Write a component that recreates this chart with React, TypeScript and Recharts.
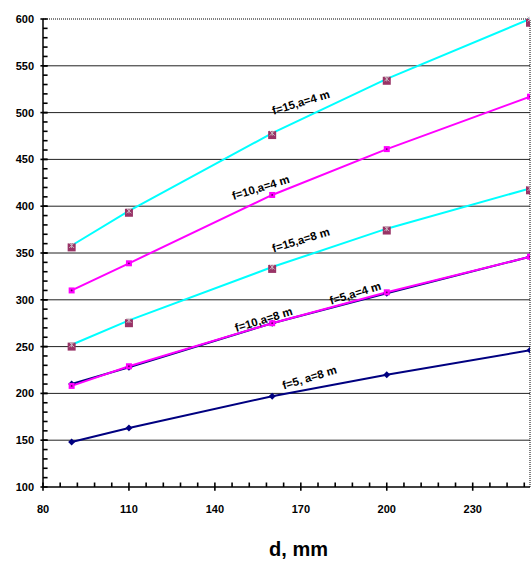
import React from "react";
import { LineChart, Line, XAxis, YAxis, ReferenceLine, ReferenceDot } from "recharts";

// d, mm at the marked points
const dValues = [90, 110, 160, 200, 250];

// calculated curves
const f15a4 = [358, 395, 478, 536, 600];
const f10a4 = [310, 339, 412, 461, 517];
const f15a8 = [252, 278, 335, 376, 419];
const f10a8 = [208, 229, 275, 308, 346];
const f5a4 = [210, 228, 275, 307, 346];
const f5a8 = [148, 163, 197, 220, 246];

// measured points (maroon squares)
const measuredA4 = [356, 393, 476, 534, 596];
const measuredA8 = [250, 275, 333, 374, 417];

const xTickLabels = [80, 110, 140, 170, 200, 230];
const yTickLabels = [100, 150, 200, 250, 300, 350, 400, 450, 500, 550, 600];
const gridLines = [150, 200, 250, 300, 350, 400, 450, 500, 550];

const curveLabels = [
  { text: "f=15,a=4 m", d: 170, v: 511 },
  { text: "f=10,a=4 m", d: 156, v: 420 },
  { text: "f=15,a=8 m", d: 170, v: 364 },
  { text: "f=10,a=8 m", d: 157, v: 279 },
  { text: "f=5,a=4 m", d: 189, v: 307 },
  { text: "f=5, a=8 m", d: 173, v: 217 },
];

const rows = (vals: number[]) => dValues.map((d, i) => ({ d, v: vals[i] }));

// minor ticks: every 6 mm on x, every 10 on y
const xMinor: number[] = [];
for (let t = 80; t < 250; t += 6) xMinor.push(t);
const yMinor: number[] = [];
for (let t = 110; t < 600; t += 10) yMinor.push(t);

// tick mark lengths in axis units (~4-5px)
const X_TICK = 1.6;
const Y_TICK = 4.8;

const FONT = "'Liberation Sans', Arial, sans-serif";

function renderYTick(props: any) {
  const { x, y, payload } = props;
  return (
    <text x={x - 9} y={y + 4} textAnchor="end" fontFamily={FONT} fontWeight="bold" fontSize={11} fill="#000">
      {payload.value}
    </text>
  );
}

function renderXTick(props: any) {
  const { x, y, payload } = props;
  return (
    <text x={x} y={y + 26} textAnchor="middle" fontFamily={FONT} fontWeight="bold" fontSize={11} fill="#000">
      {payload.value}
    </text>
  );
}

const StarDot = (p: any) => {
  const { cx, cy } = p;
  if (cx == null || cy == null) return <g />;
  const s = 2.5;
  return (
    <g stroke="#c8b8c0" strokeWidth={1}>
      <line x1={cx - s} y1={cy - s} x2={cx + s} y2={cy + s} />
      <line x1={cx - s} y1={cy + s} x2={cx + s} y2={cy - s} />
      <line x1={cx} y1={cy - s} x2={cx} y2={cy + s} />
    </g>
  );
};

const SquareDot = (p: any) => {
  const { cx, cy } = p;
  if (cx == null || cy == null) return <g />;
  return (
    <g>
      <rect x={cx - 3} y={cy - 3} width={6} height={6} fill="#ff00ff" />
      <circle cx={cx} cy={cy} r={0.9} fill="#660066" />
    </g>
  );
};

const DiamondDot = (p: any) => {
  const { cx, cy } = p;
  if (cx == null || cy == null) return <g />;
  const s = 3.5;
  return <polygon points={`${cx},${cy - s} ${cx + s},${cy} ${cx},${cy + s} ${cx - s},${cy}`} fill="#000080" />;
};

const MeasuredDot = (p: any) => {
  const { cx, cy } = p;
  if (cx == null || cy == null) return <g />;
  return <rect x={cx - 4} y={cy - 4} width={8} height={8} fill="#993366" />;
};

export default function App() {
  return (
    <div style={{ position: "absolute", left: 0, top: 0, background: "#fff" }}>
      <LineChart width={531} height={562} margin={{ top: 19, right: 1, bottom: 0, left: 0 }}>
        <XAxis
          dataKey="d"
          type="number"
          domain={[80, 250]}
          ticks={xTickLabels}
          interval={0}
          allowDataOverflow
          height={75}
          tickSize={0}
          tickMargin={0}
          tickLine={false}
          tick={renderXTick}
          axisLine={{ stroke: "#000", strokeWidth: 1.5 }}
          label={{
            content: (lp: any) => {
              const vb = lp.viewBox;
              return (
                <text
                  x={vb.x + vb.width / 2 + 12}
                  y={vb.y + 69}
                  textAnchor="middle"
                  fontFamily={FONT}
                  fontWeight="bold"
                  fontSize={20}
                  fill="#000"
                >
                  d, mm
                </text>
              );
            },
          }}
        />
        <YAxis
          type="number"
          domain={[100, 600]}
          ticks={yTickLabels}
          interval={0}
          width={43}
          tickSize={0}
          tickMargin={0}
          tickLine={false}
          tick={renderYTick}
          axisLine={{ stroke: "#000", strokeWidth: 1.5 }}
        />
        {gridLines.map((g) => (
          <ReferenceLine key={g} y={g} stroke="#222" strokeWidth={1} />
        ))}
        <ReferenceLine y={600} stroke="#000" strokeDasharray="1 1" />
        <ReferenceLine x={250} stroke="#000" strokeDasharray="1 1" />

        {/* inward tick marks along both axes */}
        {yMinor.map((t) => (
          <ReferenceLine
            key={`ym${t}`}
            segment={[{ x: 80, y: t }, { x: 80 + X_TICK, y: t }]}
            stroke="#000"
            strokeWidth={1.6}
            ifOverflow="visible"
          />
        ))}
        {yTickLabels.map((t) => (
          <ReferenceLine
            key={`yM${t}`}
            segment={[{ x: 80 - 0.9, y: t }, { x: 80 + X_TICK, y: t }]}
            stroke="#000"
            strokeWidth={1.6}
            ifOverflow="visible"
          />
        ))}
        {xMinor.map((t) => {
          const major = xTickLabels.includes(t);
          return (
            <ReferenceLine
              key={`xm${t}`}
              segment={[{ x: t, y: major ? 100 - 4 : 100 }, { x: t, y: 100 + Y_TICK }]}
              stroke="#000"
              strokeWidth={1.6}
              ifOverflow="visible"
            />
          );
        })}

        <Line data={rows(measuredA4)} dataKey="v" stroke="none" dot={<MeasuredDot />} isAnimationActive={false} />
        <Line data={rows(measuredA8)} dataKey="v" stroke="none" dot={<MeasuredDot />} isAnimationActive={false} />

        <Line data={rows(f15a4)} dataKey="v" type="linear" stroke="#00ffff" strokeWidth={2} dot={<StarDot />} isAnimationActive={false} />
        <Line data={rows(f15a8)} dataKey="v" type="linear" stroke="#00ffff" strokeWidth={2} dot={<StarDot />} isAnimationActive={false} />
        <Line data={rows(f10a4)} dataKey="v" type="linear" stroke="#ff00ff" strokeWidth={2} dot={<SquareDot />} isAnimationActive={false} />
        <Line data={rows(f5a4)} dataKey="v" type="linear" stroke="#000080" strokeWidth={2} dot={<DiamondDot />} isAnimationActive={false} />
        <Line data={rows(f10a8)} dataKey="v" type="linear" stroke="#ff00ff" strokeWidth={2} dot={<SquareDot />} isAnimationActive={false} />
        <Line data={rows(f5a8)} dataKey="v" type="linear" stroke="#000080" strokeWidth={2} dot={<DiamondDot />} isAnimationActive={false} />

        {curveLabels.map((l) => (
          <ReferenceDot
            key={l.text}
            x={l.d}
            y={l.v}
            r={0}
            ifOverflow="visible"
            shape={(p: any) => (
              <text
                x={p.cx}
                y={p.cy}
                transform={`rotate(-17 ${p.cx} ${p.cy})`}
                textAnchor="middle"
                dominantBaseline="central"
                fontFamily={FONT}
                fontWeight="bold"
                fontSize={11.5}
                fill="#000"
              >
                {l.text}
              </text>
            )}
          />
        ))}
      </LineChart>
    </div>
  );
}
